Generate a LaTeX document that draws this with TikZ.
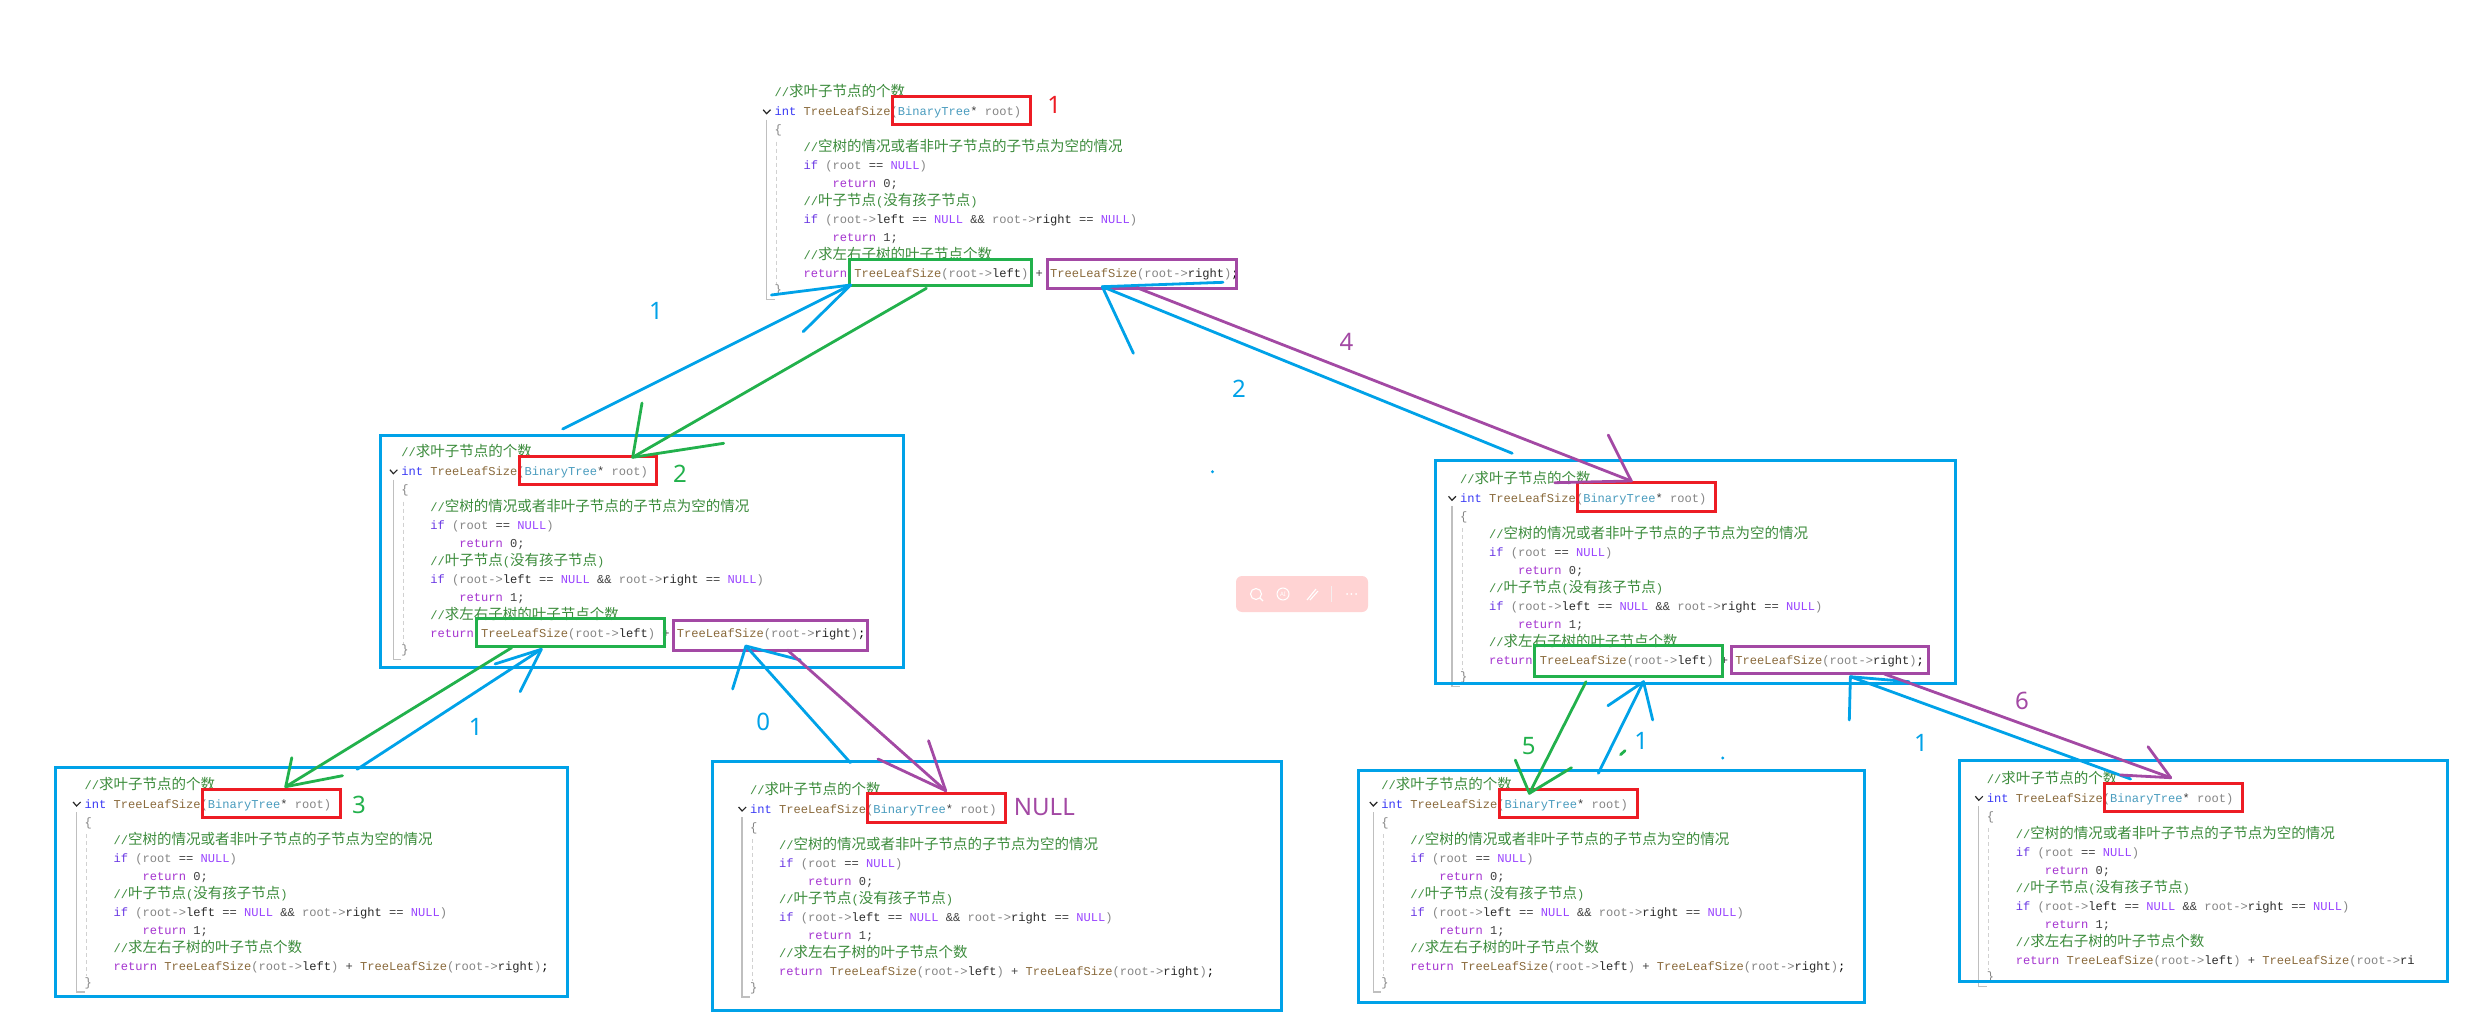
\documentclass[tikz,border=0pt]{standalone}
\usepackage{fontspec}
\usetikzlibrary{fit}
\newfontfamily\codefont{Liberation Mono}
\newfontfamily\cjkfont{Noto Sans CJK SC}
\newfontfamily\labelfont{Noto Sans}
\definecolor{lineblue}{HTML}{00A2E8}
\definecolor{linegreen}{HTML}{22B14C}
\definecolor{linered}{HTML}{ED1C24}
\definecolor{linepurple}{HTML}{A349A4}
\definecolor{cComment}{HTML}{3C8C3C}
\definecolor{cType}{HTML}{3A3AF5}
\definecolor{cFunc}{HTML}{8A6A3C}
\definecolor{cParam}{HTML}{4A9CBE}
\definecolor{cArg}{HTML}{858585}
\definecolor{cCtrl}{HTML}{A535D0}
\definecolor{cNull}{HTML}{9A45FF}
\definecolor{cMem}{HTML}{2A2A2A}
\definecolor{cOp}{HTML}{404040}
\definecolor{pillpink}{HTML}{FFD3D3}
\newcommand{\CM}[1]{\textcolor{cComment}{#1}}
\newcommand{\CJ}[1]{{\fontsize{14.5}{14.5}\cjkfont #1}}
\newcommand{\KW}[1]{\textcolor{cCtrl}{#1}}
\newcommand{\NL}{\textcolor{cNull}{NULL}}
\newcommand{\FN}{\textcolor{cFunc}{TreeLeafSize}}
\newcommand{\AR}[1]{\textcolor{cArg}{#1}}
\newcommand{\MB}[1]{\textcolor{cMem}{#1}}
\newcommand{\OP}[1]{\textcolor{cOp}{#1}}
\newcommand{\fulltail}{\MB{right}\AR{)};}
\tikzset{
  codeline/.style={anchor=base west,inner sep=0pt,outer sep=0pt,font=\fontsize{12.08}{14}\codefont},
  guideline/.style={draw=black!25,line width=1.3pt},
  dashguide/.style={draw=black!18,line width=0.9pt,dash pattern=on 4pt off 3pt},
  chevronline/.style={draw=black!85,line width=1.2pt},
  framebox/.style={draw=lineblue,line width=3pt,inner sep=0pt},
  redbox/.style={draw=linered,line width=3pt,inner sep=0pt},
  greenbox/.style={draw=linegreen,line width=3pt,inner sep=0pt},
  purplebox/.style={draw=linepurple,line width=3pt,inner sep=0pt},
  pen/.style={line width=2.8pt,line cap=round,line join=round},
  tag/.style={inner sep=0pt,font=\fontsize{24}{24}\labelfont},
}
% name, x, y of the "int" line, tail of the last line
\newcommand{\codeblock}[4]{%
\begin{scope}[shift={(#2,#3)}]
  \draw[guideline] (-8,8) -- (-8,188) -- (0,188);
  \draw[dashguide] (2,30) -- (2,172);
  \draw[chevronline] (-11.5,-2) -- (-8,2) -- (-4,-2);
  \node[codeline] (#1a) at (0,-15) {\CM{//\CJ{求叶子节点的个数}}};
  \node[codeline] (#1b) at (0,4) {\textcolor{cType}{int} \FN\AR{(}\textcolor{cParam}{BinaryTree}\OP{*} \AR{root)}};
  \node[codeline] (#1c) at (0,22) {\AR{\{}};
  \node[codeline] (#1d) at (29,40) {\CM{//\CJ{空树的情况或者非叶子节点的子节点为空的情况}}};
  \node[codeline] (#1e) at (29,58) {\textcolor{cType!55!cCtrl}{if} \AR{(root} \OP{==} \NL\AR{)}};
  \node[codeline] (#1f) at (58,76) {\KW{return} \OP{0;}};
  \node[codeline] (#1g) at (29,94) {\CM{//\CJ{叶子节点}(\CJ{没有孩子节点})}};
  \node[codeline] (#1h) at (29,112) {\textcolor{cType!55!cCtrl}{if} \AR{(root->}\MB{left} \OP{==} \NL\ \OP{\&\&} \AR{root->}\MB{right} \OP{==} \NL\AR{)}};
  \node[codeline] (#1i) at (58,130) {\KW{return} \OP{1;}};
  \node[codeline] (#1j) at (29,148) {\CM{//\CJ{求左右子树的叶子节点个数}}};
  \node[codeline] (#1k) at (29,166) {\KW{return} \FN\AR{(root->}\MB{left}\AR{)} \OP{+} \FN\AR{(root->}#4};
  \node[codeline] (#1l) at (0,182) {\AR{\}}};
\end{scope}}
% name, colour, start, tip, barb, barb
\newcommand{\handarrow}[6]{%
  \coordinate (#1s) at (#3);
  \coordinate (#1t) at (#4);
  \coordinate (#1u) at (#5);
  \coordinate (#1v) at (#6);
  \draw[pen,#2] (#1s) -- (#1t);
  \draw[pen,#2] (#1u) -- (#1t) -- (#1v);
}
\begin{document}
\begin{tikzpicture}[x=1pt,y=-1pt]
\useasboundingbox (0,0) rectangle (2474,1035);
\fill[white] (0,0) rectangle (2474,1035);

% pink toolbar
\fill[pillpink,rounded corners=6pt] (1236,576) rectangle (1368,612);
\draw[white,line width=1.1pt] (1256,594) circle (5.5pt);
\draw[white,line width=1.1pt] (1260,598) -- (1263,601);
\draw[white,line width=1pt] (1283,594) circle (6pt);
\node[inner sep=0pt,text=white,font=\fontsize{6}{6}\labelfont] (pillai) at (1283,594) {AI};
\draw[white,line width=1.1pt] (1307,600) -- (1316,589);
\draw[white,line width=1.1pt] (1310,600) -- (1318,591);
\draw[pillpink!80!black!20!white,line width=.6pt] (1331,586) -- (1331,602);
\fill[white] (1347,594) circle (1pt) (1351.4,594) circle (1pt) (1356,594) circle (1pt);

% code
\codeblock{top}{774.6}{111.7}{\fulltail}
\codeblock{ml}{401.4}{471.7}{\fulltail}
\codeblock{mr}{1460}{498.3}{\fulltail}
\codeblock{bl}{84.6}{804}{\fulltail}
\codeblock{bb}{750.1}{809}{\fulltail}
\codeblock{bc}{1381.3}{804}{\fulltail}
\codeblock{bd}{1986.8}{798.3}{\MB{ri}}

% frames
\node[framebox,fit={(380,435.3)(903.8,667.3)}] (fml) {};
\node[framebox,fit={(1435,460)(1955.7,683.3)}] (fmr) {};
\node[framebox,fit={(55,767.3)(567.9,996.7)}] (fbl) {};
\node[framebox,fit={(712.6,761.7)(1281,1010)}] (fbb) {};
\node[framebox,fit={(1358,770.7)(1864.3,1002.7)}] (fbc) {};
\node[framebox,fit={(1959,760)(2447,981.7)}] (fbd) {};

% parameter boxes
\node[redbox,fit={(892.9,96.7)(1030,125)}] (rtop) {};
\node[redbox,fit={(519,456.7)(656.7,484.7)}] (rml) {};
\node[redbox,fit={(1577.9,482.7)(1715.4,511.3)}] (rmr) {};
\node[redbox,fit={(202.9,789.3)(340,817.3)}] (rbl) {};
\node[redbox,fit={(867.6,793.3)(1005.4,822.3)}] (rbb) {};
\node[redbox,fit={(1499.2,789)(1637,817)}] (rbc) {};
\node[redbox,fit={(2104.5,783.3)(2242.6,811.7)}] (rbd) {};

% call boxes
\node[greenbox,fit={(849.3,259.3)(1031,285)}] (gtop) {};
\node[purplebox,fit={(1047.9,259.3)(1236.4,288)}] (ptop) {};
\node[greenbox,fit={(476.5,618.7)(664,646.7)}] (gml) {};
\node[purplebox,fit={(673.7,620.3)(867.6,650)}] (pml) {};
\node[greenbox,fit={(1534.3,645)(1722.9,676.7)}] (gmr) {};
\node[purplebox,fit={(1731.4,646.7)(1928.2,673.3)}] (pmr) {};

% hand-drawn arrows
\handarrow{aa}{lineblue}{562.7,429}{850.7,285}{771.4,295}{803.2,331.7}
\handarrow{ab}{linegreen}{926.4,288.3}{632.7,457.3}{642,403}{723.7,443.3}
\handarrow{ac}{lineblue}{1512.2,453.3}{1102.3,286.7}{1133.4,353.3}{1223,282.3}
\handarrow{ad}{linepurple}{1136.8,287.7}{1631.3,481}{1608.2,435}{1554.7,482.7}
\handarrow{ae}{linegreen}{511.7,647.7}{285.7,786.7}{291.8,757.7}{342.5,775.7}
\handarrow{af}{lineblue}{357.1,769.3}{541.3,649.3}{495,664}{520.2,691.7}
\handarrow{ag}{lineblue}{850.4,762.7}{745.9,646}{732.6,689}{800.3,660}
\handarrow{ah}{linepurple}{787.3,650}{945.7,790.7}{928.5,740.7}{878,759}
\handarrow{ai}{linegreen}{1586,681.7}{1529.4,793.3}{1515.3,760}{1571.5,767.7}
\handarrow{aj}{lineblue}{1598.3,773.3}{1643.5,681.7}{1607.9,705.7}{1652.7,720}
\handarrow{ak}{lineblue}{2130.6,779}{1850.4,676.7}{1849.3,720}{1909,681.7}
\handarrow{al}{linepurple}{1884.3,674}{2170.7,777.7}{2148,746.7}{2120.6,775}

% stray pen marks
\draw[pen,linegreen] (1620.5,754.7) -- (1625,750.7);
\fill[lineblue] (1722.7,758) circle (1.6pt);
\fill[lineblue] (1212.5,471.7) circle (1.6pt);

% step labels
\node[tag,text=linered] (n1) at (1054.3,105) {1};
\node[tag,text=lineblue] (n2) at (656,311) {1};
\node[tag,text=linegreen] (n3) at (680,474) {2};
\node[tag,text=linegreen] (n4) at (358.9,805) {3};
\node[tag,text=linepurple] (n5) at (1044.4,806.7) {NULL};
\node[tag,text=linepurple] (n6) at (1346.4,341.7) {4};
\node[tag,text=lineblue] (n7) at (1239,389.3) {2};
\node[tag,text=lineblue] (n8) at (475.8,727.3) {1};
\node[tag,text=lineblue] (n9) at (763.3,721.7) {0};
\node[tag,text=linegreen] (n10) at (1528.7,745.7) {5};
\node[tag,text=lineblue] (n11) at (1641.2,740.7) {1};
\node[tag,text=lineblue] (n12) at (1921,742.7) {1};
\node[tag,text=linepurple] (n13) at (2021.9,700.7) {6};
\end{tikzpicture}
\end{document}
